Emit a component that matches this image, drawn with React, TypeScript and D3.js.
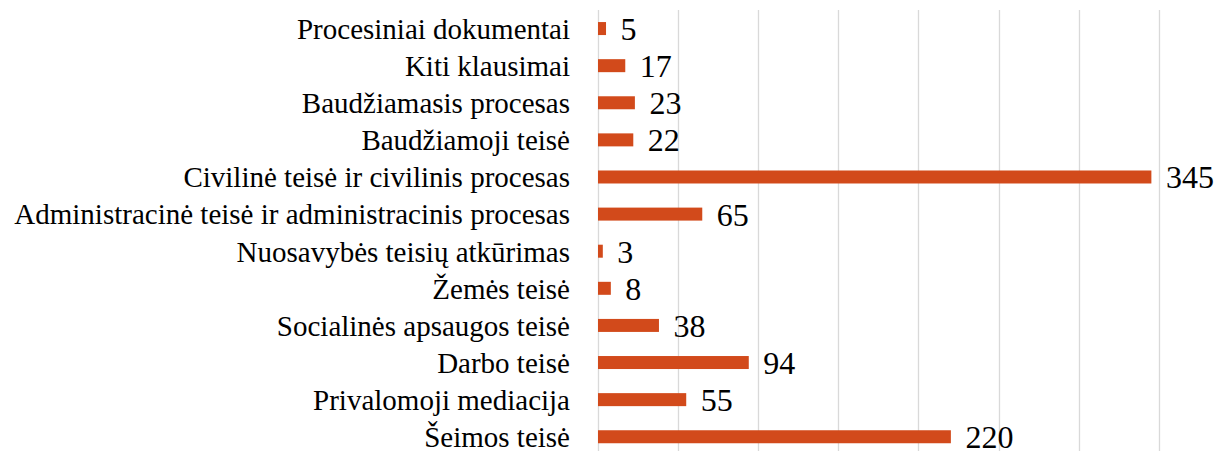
import React from "react";
import * as d3 from "d3";

const categories = [
  "Procesiniai dokumentai",
  "Kiti klausimai",
  "Baudžiamasis procesas",
  "Baudžiamoji teisė",
  "Civilinė teisė ir civilinis procesas",
  "Administracinė teisė ir administracinis procesas",
  "Nuosavybės teisių atkūrimas",
  "Žemės teisė",
  "Socialinės apsaugos teisė",
  "Darbo teisė",
  "Privalomoji mediacija",
  "Šeimos teisė",
];
const values = [5, 17, 23, 22, 345, 65, 3, 8, 38, 94, 55, 220];
const gridTicks = [0, 50, 100, 150, 200, 250, 300, 350];

const W = 1215;
const H = 451;

export default function App() {
  const x = d3.scaleLinear().domain([0, 350]).range([597.5, 1158.9]);
  const y = d3
    .scaleBand<string>()
    .domain(categories)
    .range([10, 455.3])
    .paddingInner(0.65)
    .paddingOuter(0.325);
  const bh = y.bandwidth();
  const font = "'Liberation Serif', 'Times New Roman', serif";
  return (
    <svg
      width={W}
      height={H}
      style={{ position: "absolute", left: 0, top: 0, background: "#fff" }}
      fontFamily={font}
    >
      {gridTicks.map((t) => (
        <line
          key={t}
          x1={Math.round(x(t)) + 0.5}
          x2={Math.round(x(t)) + 0.5}
          y1={10}
          y2={H}
          stroke="#D9D9D9"
          strokeWidth={1.3}
        />
      ))}
      {categories.map((c, i) => {
        const cy = (y(c) as number) + bh / 2;
        return (
          <g key={c}>
            <rect
              x={x(0) + 0.5}
              y={cy - 6.5}
              width={x(values[i]) - x(0)}
              height={13}
              fill="#D24A1B"
            />
            <text x={570} y={cy + 10.3} textAnchor="end" fontSize={29} fill="#000">
              {c}
            </text>
            <text x={x(values[i]) + 15} y={cy + 11.5} fontSize={32} fill="#000">
              {values[i]}
            </text>
          </g>
        );
      })}
    </svg>
  );
}
